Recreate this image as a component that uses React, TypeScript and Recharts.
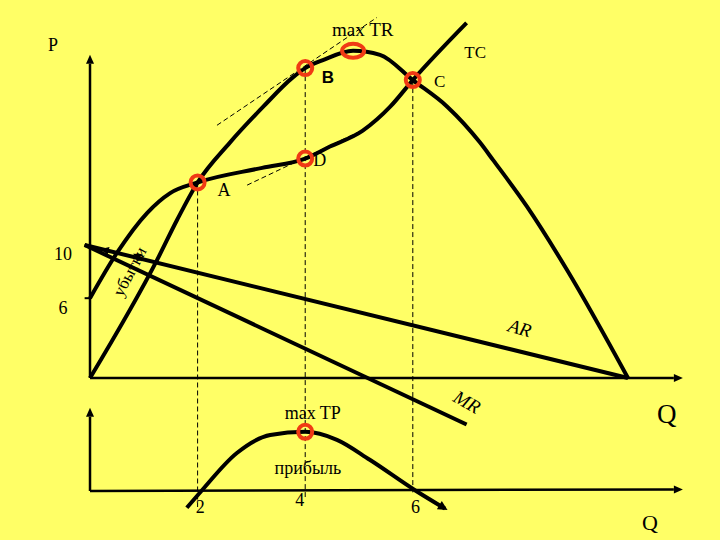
import React from 'react';
import { ComposedChart, Line, XAxis, YAxis, ReferenceLine, ReferenceDot } from 'recharts';

const W = 720;
const H = 540;
const BG = '#FFFF66';
const RING = '#F03A14';
const SERIF = '"Liberation Serif", "DejaVu Serif", serif';
const SANS = '"Liberation Sans", Arial, sans-serif';

// Q on both horizontal axes, upper panel = money, lower panel = profit
const Q_DOMAIN: [number, number] = [-1.673, 11.71];
const TOP_DOMAIN: [number, number] = [-12.18, 28.42];
const BOTTOM_DOMAIN: [number, number] = [-6.125, 61.375];

const trQ = [0, 1.25, 1.62, 2, 2.6, 3.22, 3.77, 4, 4.33, 4.89, 5.39, 6, 6.64, 7.25, 7.49, 8.12, 8.87, 10];
const trValue = [0, 8.9, 11.9, 14.7, 17.7, 20.4, 22.6, 23.3, 23.9, 24.6, 24.3, 22.4, 20.4, 17.7, 16.4, 12.9, 8.1, 0];

const tcQ = [0, 0.5, 1.06, 1.49, 2, 3.2, 4, 4.46, 5.07, 5.58, 6, 7];
const tcValue = [6, 9.4, 12.4, 13.9, 14.7, 15.8, 16.5, 17.4, 18.6, 20.4, 22.4, 26.7];

const arQ = [-0.1, 10];
const arValue = [10, 0];

const mrQ = [-0.1, 7];
const mrValue = [10, -3.5];

const profitQ = [1.8, 2.07, 2.73, 3.35, 4, 4.59, 5.2, 6.04, 6.6];
const profitValue = [-2.1, 0, 4.75, 7, 7.4, 6.4, 3.9, 0.1, -2.2];

const priceTicks = [10, 6];
const qtyTicks = [2, 4, 6];

const zip = (qs: number[], vs: number[]) => qs.map((q, i) => ({ q, v: vs[i] }));
const trData = zip(trQ, trValue);
const tcData = zip(tcQ, tcValue);
const arData = zip(arQ, arValue);
const mrData = zip(mrQ, mrValue);
const profitData = zip(profitQ, profitValue);

const pointA = trData[3];
const pointB = trData[7];
const pointMaxTR = trData[9];
const pointC = trData[11];
const pointD = tcData[6];
const pointMaxTP = profitData[4];

type Note = { text: string; q: number; v: number; axis: 'top' | 'bottom'; size: number; font?: string; italic?: boolean; bold?: boolean; rotate?: number };

const notes: Note[] = [
  { text: 'P', q: -0.69, v: 25.0, axis: 'top', size: 18 },
  { text: 'max TR', q: 5.07, v: 26.2, axis: 'top', size: 19 },
  { text: 'TC', q: 7.16, v: 24.5, axis: 'top', size: 17 },
  { text: 'B', q: 4.42, v: 22.6, axis: 'top', size: 17, font: SANS, bold: true },
  { text: 'C', q: 6.5, v: 22.3, axis: 'top', size: 17 },
  { text: 'D', q: 4.27, v: 16.4, axis: 'top', size: 18 },
  { text: 'A', q: 2.49, v: 14.1, axis: 'top', size: 18 },
  { text: 'убытки', q: 0.74, v: 8.0, axis: 'top', size: 17, rotate: -62 },
  { text: 'AR', q: 7.99, v: 3.76, axis: 'top', size: 19, italic: true, rotate: 16 },
  { text: 'MR', q: 7.01, v: -1.8, axis: 'top', size: 19, italic: true, rotate: 30 },
  { text: 'Q', q: 10.72, v: -2.7, axis: 'top', size: 27 },
  { text: 'max TP', q: 4.14, v: 9.75, axis: 'bottom', size: 18 },
  { text: 'прибыль', q: 4.05, v: 2.9, axis: 'bottom', size: 18 },
  { text: 'Q', q: 10.41, v: -3.9, axis: 'bottom', size: 22 },
];

const ArrowLine = (props: any) => {
  const { x1, y1, x2, y2 } = props;
  const stroke = props.stroke || '#000';
  const sw = props.strokeWidth || 2;
  const a = Math.atan2(y2 - y1, x2 - x1);
  const len = props.headLen || 9;
  const w = props.headWidth || 4;
  const bx = x2 - len * Math.cos(a);
  const by = y2 - len * Math.sin(a);
  const pts = `${x2},${y2} ${bx - w * Math.sin(a)},${by + w * Math.cos(a)} ${bx + w * Math.sin(a)},${by - w * Math.cos(a)}`;
  return (
    <g>
      <line x1={x1} y1={y1} x2={bx} y2={by} stroke={stroke} strokeWidth={sw} />
      <polygon points={pts} fill={stroke} />
    </g>
  );
};

const SmallArrow = (props: any) => <ArrowLine {...props} headLen={8} headWidth={4} />;

const textShape = (n: Note) => (p: any) => (
  <text
    x={p.cx}
    y={p.cy}
    textAnchor="middle"
    dominantBaseline="central"
    fontFamily={n.font || SERIF}
    fontSize={n.size}
    fontStyle={n.italic ? 'italic' : 'normal'}
    fontWeight={n.bold ? 700 : 400}
    fill="#000"
    transform={n.rotate ? `rotate(${n.rotate} ${p.cx} ${p.cy})` : undefined}
  >
    {n.text}
  </text>
);

const tickText = (text: string, size: number) => (p: any) => (
  <text x={p.cx} y={p.cy} textAnchor="middle" dominantBaseline="central" fontFamily={SERIF} fontSize={size} fill="#000">
    {text}
  </text>
);

const ellipseRing = (p: any) => (
  <ellipse cx={p.cx} cy={p.cy} rx={11} ry={7} fill="none" stroke={RING} strokeWidth={4} />
);

const curve = { stroke: '#000', strokeWidth: 4, dot: false, isAnimationActive: false, activeDot: false } as const;

export default function App() {
  return (
    <div style={{ position: 'absolute', left: 0, top: 0, width: W, height: H, background: BG }}>
      <ComposedChart width={W} height={H} margin={{ top: 0, right: 0, bottom: 0, left: 0 }}>
        <defs>
          <marker id="tip" viewBox="0 0 10 10" refX="7" refY="5" markerWidth="2.6" markerHeight="2.4" orient="auto">
            <path d="M0,0 L10,5 L0,10 z" fill="#000" />
          </marker>
        </defs>
        <XAxis type="number" dataKey="q" domain={Q_DOMAIN} allowDataOverflow hide />
        <YAxis yAxisId="top" type="number" domain={TOP_DOMAIN} allowDataOverflow hide />
        <YAxis yAxisId="bottom" type="number" domain={BOTTOM_DOMAIN} allowDataOverflow hide />

        {/* axes */}
        <ReferenceLine yAxisId="top" segment={[{ x: 0, y: 0 }, { x: 0, y: 24.3 }]} stroke="#000" strokeWidth={2.5} shape={ArrowLine} />
        <ReferenceLine yAxisId="top" segment={[{ x: 0, y: 0 }, { x: 11.02, y: 0 }]} stroke="#000" strokeWidth={2.5} shape={ArrowLine} />
        <ReferenceLine yAxisId="bottom" segment={[{ x: 0, y: 0 }, { x: 0, y: 10.4 }]} stroke="#000" strokeWidth={2.5} shape={ArrowLine} />
        <ReferenceLine yAxisId="bottom" segment={[{ x: 0, y: 0 }, { x: 11.02, y: 0.2 }]} stroke="#000" strokeWidth={2.5} shape={ArrowLine} />
        {priceTicks.map((t) => (
          <ReferenceLine key={`pt${t}`} yAxisId="top" segment={[{ x: -0.1, y: t }, { x: 0, y: t }]} stroke="#000" strokeWidth={2} />
        ))}

        {/* dashed guides */}
        <ReferenceLine yAxisId="top" segment={[{ x: pointA.q, y: pointA.v }, { x: pointA.q, y: -9.7 }]} stroke="#000" strokeWidth={1} strokeDasharray="5 3" />
        <ReferenceLine yAxisId="top" segment={[{ x: pointB.q, y: pointB.v }, { x: pointB.q, y: -8.95 }]} stroke="#000" strokeWidth={1} strokeDasharray="5 3" />
        <ReferenceLine yAxisId="top" segment={[{ x: pointC.q, y: pointC.v }, { x: pointC.q, y: -8.6 }]} stroke="#000" strokeWidth={1} strokeDasharray="5 3" />
        <ReferenceLine yAxisId="top" segment={[{ x: 2.36, y: 19.0 }, { x: 5.33, y: 27.1 }]} stroke="#000" strokeWidth={1} strokeDasharray="5 3" />
        <ReferenceLine yAxisId="top" segment={[{ x: 2.92, y: 14.5 }, { x: 5.15, y: 18.8 }]} stroke="#000" strokeWidth={1} strokeDasharray="5 3" />

        <Line yAxisId="top" data={arData} dataKey="v" type="linear" {...curve} />
        <Line yAxisId="top" data={mrData} dataKey="v" type="linear" {...curve} />
        <Line yAxisId="top" data={trData} dataKey="v" type="monotone" {...curve} />
        <Line yAxisId="top" data={tcData} dataKey="v" type="monotone" {...curve} />
        <Line yAxisId="bottom" data={profitData} dataKey="v" type="monotone" {...curve} markerEnd="url(#tip)" />

        {/* small pointers of the loss area */}
        <ReferenceLine yAxisId="top" segment={[{ x: 0.6, y: 9.31 }, { x: 0.2, y: 9.7 }]} stroke="#000" strokeWidth={2} shape={SmallArrow} />
        <ReferenceLine yAxisId="top" segment={[{ x: 1.0, y: 8.9 }, { x: 0.8, y: 9.35 }]} stroke="#000" strokeWidth={1.5} shape={SmallArrow} />

        {/* marked points */}
        {[pointA, pointB, pointC, pointD].map((p, i) => (
          <ReferenceDot key={`ring${i}`} yAxisId="top" x={p.q} y={p.v} r={7} fill="none" stroke={RING} strokeWidth={4} />
        ))}
        <ReferenceDot yAxisId="top" x={pointMaxTR.q} y={pointMaxTR.v} r={7} shape={ellipseRing} />
        <ReferenceDot yAxisId="bottom" x={pointMaxTP.q} y={pointMaxTP.v} r={7} fill="none" stroke={RING} strokeWidth={4} />

        {/* tick labels */}
        {priceTicks.map((t) => (
          <ReferenceDot key={`pl${t}`} yAxisId="top" x={-0.5} y={t - 0.7} r={1} shape={tickText(String(t), 18)} />
        ))}
        {qtyTicks.map((t, i) => (
          <ReferenceDot key={`ql${t}`} yAxisId="bottom" x={t + (i === 1 ? -0.1 : 0.05)} y={i === 1 ? -1.1 : -2.0} r={1} shape={tickText(String(t), 18)} />
        ))}

        {notes.map((n, i) => (
          <ReferenceDot key={`n${i}`} yAxisId={n.axis} x={n.q} y={n.v} r={1} shape={textShape(n)} />
        ))}
      </ComposedChart>
    </div>
  );
}
